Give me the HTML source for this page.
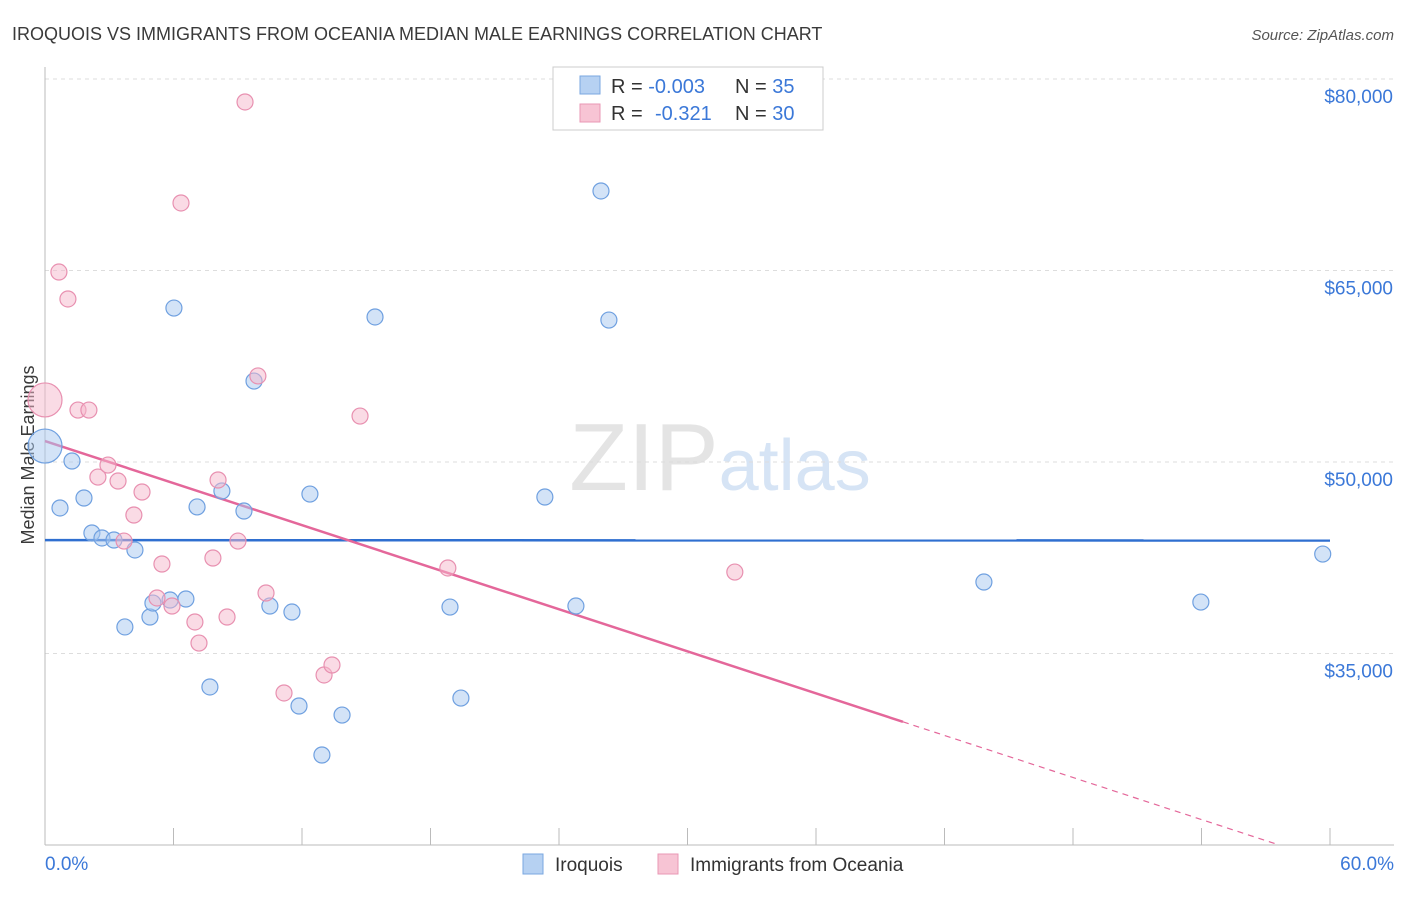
<!DOCTYPE html>
<html><head><meta charset="utf-8"><style>
body{margin:0;background:#fff;font-family:"Liberation Sans",sans-serif}
svg text{font-family:"Liberation Sans",sans-serif}
</style></head><body>
<svg id="chart" width="1406" height="892" viewBox="0 0 1406 892" xmlns="http://www.w3.org/2000/svg">
<text x="12" y="40" font-size="18" fill="#3a3a3a">IROQUOIS VS IMMIGRANTS FROM OCEANIA MEDIAN MALE EARNINGS CORRELATION CHART</text>
<text x="1394" y="40" font-size="15" fill="#555" text-anchor="end" font-style="italic">Source: ZipAtlas.com</text>
<text x="720" y="490" font-size="96" text-anchor="middle" fill="#e4e4e4" font-family="Liberation Serif">ZIP<tspan fill="#d6e4f5" font-family="Liberation Sans" font-size="72">atlas</tspan></text>
<text transform="translate(34,455) rotate(-90)" font-size="18" fill="#3a3a3a" text-anchor="middle">Median Male Earnings</text>
<g id="grid"></g><g id="axes"></g><g id="trends"></g><g id="points"></g>
<g>
<rect x="553" y="67" width="270" height="63" fill="#fff" stroke="#ccc"/>
<rect x="580" y="76" width="20" height="18" fill="#b6d1f2" stroke="#7aa7e0"/>
<rect x="580" y="104" width="20" height="18" fill="#f7c4d4" stroke="#ea97b4"/>
<text x="611" y="93" font-size="20" fill="#333">R = <tspan fill="#3b78d8">-0.003</tspan><tspan x="735">N = </tspan><tspan fill="#3b78d8">35</tspan></text>
<text x="611" y="120" font-size="20" fill="#333">R = <tspan fill="#3b78d8" x="655">-0.321</tspan><tspan x="735">N = </tspan><tspan fill="#3b78d8">30</tspan></text>
</g>
<g>
<rect x="523" y="854" width="20" height="20" fill="#b6d1f2" stroke="#7aa7e0"/>
<text x="555" y="871" font-size="19" fill="#333">Iroquois</text>
<rect x="658" y="854" width="20" height="20" fill="#f7c4d4" stroke="#ea97b4"/>
<text x="690" y="871" font-size="19" fill="#333">Immigrants from Oceania</text>
</g>
</svg>
<script>
const yTicks=[80000,65000,50000,35000];
const yTickLabels=["$80,000","$65,000","$50,000","$35,000"];
const xTickLabels=["0.0%","60.0%"];
const blueX=[0,0.7,1.26,1.82,2.19,2.66,3.22,4.2,3.73,4.9,5.04,5.84,6.58,6.02,7.1,7.7,8.26,9.29,9.76,10.5,11.53,11.86,12.37,12.93,13.87,15.41,18.91,19.42,23.34,24.79,25.96,26.33,43.84,53.97,59.66];
const blueY=[51250,46400,50080,47180,44440,44050,43890,43110,37080,37860,38950,39190,39270,62060,46480,32380,47730,46160,56340,38720,38250,30890,47490,27050,30180,61360,38640,31510,47260,38720,71230,61120,40600,39030,42790];
const pinkX=[0,0.65,1.07,1.54,2.05,2.47,2.94,3.41,3.69,4.15,4.53,5.23,5.46,5.93,6.35,7,7.19,7.84,8.08,8.5,9.01,9.34,9.94,10.32,11.16,13.03,13.4,14.71,18.81,32.21];
const pinkY=[54860,64880,62770,54070,54070,48820,49760,48510,43810,45850,47650,39350,42010,38720,70290,37470,35820,42480,48590,37860,43810,78200,56740,39740,31910,33320,34100,53600,41700,41380];
const blueTrend=[43880,43850];
const pinkTrend=[51640,-549];
const NS="http://www.w3.org/2000/svg";
const X=p=>45+p*(1285/60);
const Y=v=>79+(80000-v)*0.012767;
function mk(parent,tag,attrs){const e=document.createElementNS(NS,tag);for(const k in attrs)e.setAttribute(k,attrs[k]);document.getElementById(parent).appendChild(e);return e;}
yTicks.forEach((v,i)=>{
 const l=mk('grid','line',{x1:45,x2:1394,y1:Y(v),y2:Y(v),stroke:'#ddd','stroke-dasharray':'4,4'});
 
 
 const t=mk('grid','text',{x:1393,y:Y(v)+24,'font-size':19,fill:'#3b78d8','text-anchor':'end'});
 t.textContent=yTickLabels[i];
 
 
});
let a=mk('axes','line',{x1:45,x2:1394,y1:845,y2:845,stroke:'#bbb'});


a=mk('axes','line',{x1:45,x2:45,y1:67,y2:845,stroke:'#bbb'});


for(let i=0;i<=10;i++){const t=mk('axes','line',{x1:X(i*6),x2:X(i*6),y1:828,y2:845,stroke:'#bbb'});
 
 }
[[0,'start',45],[60,'end',1394]].forEach((d,i)=>{const t=mk('axes','text',{x:d[2],y:870,'font-size':19,fill:'#3b78d8','text-anchor':d[1]});t.textContent=xTickLabels[i];
 
 });
let tl=mk('trends','line',{x1:X(0),x2:X(60),y1:Y(blueTrend[0]),y2:Y(blueTrend[1]),stroke:'#2f6fd0','stroke-width':2.5});


const pf=p=>pinkTrend[0]+pinkTrend[1]*p;
tl=mk('trends','line',{x1:X(0),x2:X(40.06),y1:Y(pf(0)),y2:Y(pf(40.06)),stroke:'#e4679a','stroke-width':2.5});


const pEnd=(pinkTrend[0]-(80000-(845-79)/0.012767))/(-pinkTrend[1]);
tl=mk('trends','line',{x1:X(40.06),x2:X(Math.min(60,pEnd)),y1:Y(pf(40.06)),y2:Y(pf(Math.min(60,pEnd))),stroke:'#e4679a','stroke-width':1.2,'stroke-dasharray':'6,5'});


blueX.forEach((x,i)=>{const c=mk('points','circle',{cx:X(x),cy:Y(blueY[i]),r:i==0?17:8,fill:'rgba(167,200,240,0.5)',stroke:'#6fa0e0','stroke-width':1.2});
 
 });
pinkX.forEach((x,i)=>{const c=mk('points','circle',{cx:X(x),cy:Y(pinkY[i]),r:i==0?17:8,fill:'rgba(245,184,204,0.5)',stroke:'#e890b0','stroke-width':1.2});
 
 });
</script>
</body></html>
